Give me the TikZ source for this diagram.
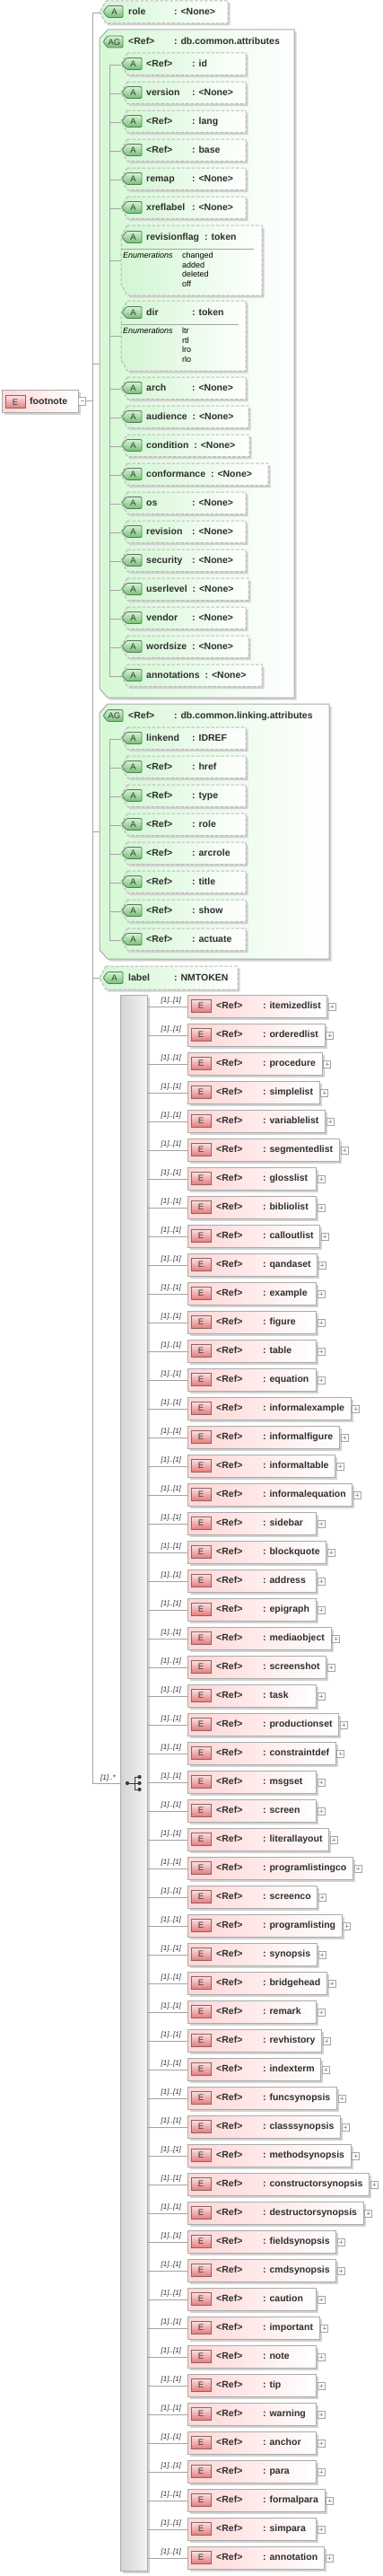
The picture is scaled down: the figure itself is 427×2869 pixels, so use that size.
\documentclass[tikz,border=0pt]{standalone}
\usepackage{fontspec}
\setmainfont{Liberation Sans}
\usetikzlibrary{calc}
\pgfdeclarelayer{bg}
\pgfsetlayers{bg,main}
\definecolor{linec}{HTML}{A4A4A4}
\definecolor{txt}{HTML}{2E2E2E}
\definecolor{shadowc}{HTML}{D2D2D2}
\definecolor{agL}{HTML}{D2F6D2}
\definecolor{agL2}{HTML}{D6F8D6}
\definecolor{epL}{HTML}{FFD6D6}
\definecolor{boxborder}{HTML}{ABABAB}
\definecolor{dashc}{HTML}{B9B9B9}
\definecolor{igtop}{HTML}{D6F3D6}
\definecolor{igbot}{HTML}{72C072}
\definecolor{igbd}{HTML}{5C785C}
\definecolor{ietop}{HTML}{FDE3E3}
\definecolor{iebot}{HTML}{E57C7C}
\definecolor{iebd}{HTML}{8C6464}
\definecolor{barL}{HTML}{D4D4D4}
\definecolor{barR}{HTML}{F3F3F3}
\definecolor{icondk}{HTML}{3A3A3A}
\newcommand\fmain{\fontsize{10.5}{12}\selectfont\bfseries}
\newcommand\fenum{\fontsize{9}{10.7}\selectfont}
\newcommand\fcard{\fontsize{8}{9}\selectfont\itshape}
\newcommand\ficon{\fontsize{9.5}{10}\selectfont}
\newlength\nmw
\newcommand\nmcol[2]{\settowidth\nmw{#2}\ifdim\nmw<\dimexpr#1-6pt\relax\makebox[#1][l]{#2}\else#2\hspace{6pt}\fi}
\newcommand\eltext[1]{\settowidth\nmw{\makebox[52pt][l]{<Ref>}: #1}\ifdim\nmw<104pt\makebox[104pt][l]{\makebox[52pt][l]{<Ref>}: #1}\else\makebox[52pt][l]{<Ref>}: #1\fi}
% chamfered box: #1 style #2 xl #3 yt #4 xr #5 yb #6 dx #7 dy
\newcommand\chbox[7]{%
  \fill[shadowc] (#2+#6+2.5,#3+2.5) -- (#4+2.5,#3+2.5) -- (#4+2.5,#5+2.5) -- (#2+#6+2.5,#5+2.5) -- (#2+2.5,#5-#7+2.5) -- (#2+2.5,#3+#7+2.5) -- cycle;
  \path[#1] (#2+#6,#3) -- (#4,#3) -- (#4,#5) -- (#2+#6,#5) -- (#2,#5-#7) -- (#2,#3+#7) -- cycle;}
% attribute icon: #1 name #2 x #3 y-center #4 text
\newcommand\aicon[4]{%
  \path[aicon] (#2+5,#3-6.5) -- (#2+22,#3-6.5) -- (#2+22,#3+6.5) -- (#2+5,#3+6.5) -- (#2,#3) -- cycle;
  \node[icontext] (#1) at (#2+12.5,#3+0.5) {#4};}
% element icon
\newcommand\eicon[3]{%
  \path[eicon] (#2,#3-7) rectangle (#2+22,#3+7);
  \node[icontext] (#1) at (#2+11,#3+0.5) {E};}
% child attribute: #1 id #2 tick y #3 right x #4 name #5 type
\newcommand\achild[5]{%
  \chbox{attrbox}{135}{#2-13}{#3}{#2+11.5}{7}{12}
  \aicon{#1-ic}{136}{#2-1}{A}
  \node[txtn] (#1) at (163,#2+2.5) {\nmcol{51pt}{#4}: #5};
  \coordinate (#1-in) at (135,#2);
  \coordinate (#1-br) at (122,#2);
  \draw[conn] (#1-br) -- (#1-in);}
% element row: #1 id #2 y #3 name
\newcommand\elemrow[3]{%
  \coordinate (#1-br) at (164,#2);
  \coordinate (#1-in) at (209,#2);
  \draw[conn] (#1-br) -- (#1-in);
  \node[cardn] (#1-card) at (179.5,#2-4.5) {[1]..[1]};
  \node[txtn] (#1) at (241,#2+2.5) {\eltext{#3}};
  \begin{pgfonlayer}{bg}
    \path[fill=shadowc] let \p1=(#1.east) in (211.5,#2-10.5) rectangle (\x1+9.5,#2+14.5);
    \path[ebox] let \p1=(#1.east) in (209,#2-13) rectangle (\x1+7,#2+12);
  \end{pgfonlayer}
  \eicon{#1-ic}{213}{#2-1}
  \path[plusbox] let \p1=(#1.east) in (\x1+8.5,#2-4) rectangle (\x1+16.5,#2+4);
  \draw[pluss] let \p1=(#1.east) in (\x1+10.5,#2) -- (\x1+14.5,#2) (\x1+12.5,#2-2) -- (\x1+12.5,#2+2);}
\begin{document}
\begin{tikzpicture}[x=1pt,y=-1pt,
  conn/.style={draw=linec, line width=0.8pt},
  attrbox/.style={draw=dashc, dash pattern=on 3.5pt off 2pt, line width=1pt, left color=agL, right color=white},
  agbox/.style={draw=boxborder, line width=1pt, left color=agL2, right color=white},
  ebox/.style={draw=boxborder, line width=1pt, left color=epL, right color=white},
  aicon/.style={draw=igbd, line width=0.8pt, top color=igtop, bottom color=igbot, rounded corners=1.2pt},
  eicon/.style={draw=iebd, line width=0.8pt, top color=ietop, bottom color=iebot},
  icontext/.style={inner sep=0pt, text=icondk, font=\ficon},
  txtn/.style={anchor=base west, inner sep=0pt, text=txt, font=\fmain},
  enumn/.style={anchor=base west, inner sep=0pt, text=black, font=\fenum},
  cardn/.style={anchor=base west, inner sep=0pt, text=txt, font=\fcard},
  sep/.style={draw=linec, line width=0.8pt},
  plusbox/.style={draw=linec, line width=0.6pt, fill=white},
  pluss/.style={draw=linec, line width=0.6pt},
  chdot/.style={fill=icondk, draw=none}]
\useasboundingbox (0,0) rectangle (427,2869);

% ---- trunk -------------------------------------------------
\coordinate (T0) at (103,14);
\coordinate (T1) at (103,1986);
\draw[conn] (T0) -- (T1);

% ---- footnote element --------------------------------------
\fill[shadowc] (4.5,436.5) rectangle (89.5,461.5);
\path[ebox] (2,434) rectangle (87,459);
\eicon{fn-ic}{6}{447.5}
\node[txtn] (fn) at (33,450.5) {footnote};
\path[plusbox] (87.5,442.5) rectangle (95.5,451);
\draw[pluss] (89.5,446.7) -- (93.5,446.7);
\coordinate (fn-out) at (95.5,446.7);
\coordinate (fn-tr) at (103,446.7);
\draw[conn] (fn-out) -- (fn-tr);

% ---- role attribute ----------------------------------------
\coordinate (role-tr) at (103,14);
\coordinate (role-in) at (111,14);
\draw[conn] (role-tr) -- (role-in);
\chbox{attrbox}{111}{1}{254}{26}{7}{12.5}
\aicon{role-ic}{115}{13}{A}
\node[txtn] (role) at (143,17) {\nmcol{51pt}{role}: <None>};

% ---- AG db.common.attributes -------------------------------
\coordinate (ag1-tr) at (103,405);
\coordinate (ag1-in) at (111,405);
\draw[conn] (ag1-tr) -- (ag1-in);
\chbox{agbox}{111}{33}{328}{777}{9}{10}
\aicon{ag1-ic}{115}{46.5}{AG}
\node[txtn] (ag1) at (143,50) {\nmcol{51pt}{<Ref>}: db.common.attributes};
\coordinate (ag1-v0) at (122,72);
\coordinate (ag1-v1) at (122,753);
\draw[conn] (ag1-v0) -- (ag1-v1);

\achild{c-id}{72}{274}{<Ref>}{id}
\achild{c-version}{104}{274}{version}{<None>}
\achild{c-lang}{136}{274}{<Ref>}{lang}
\achild{c-base}{168}{274}{<Ref>}{base}
\achild{c-remap}{200}{274}{remap}{<None>}
\achild{c-xref}{232}{274}{xreflabel}{<None>}

% revisionflag
\chbox{attrbox}{135}{251}{292}{329}{7}{12}
\aicon{c-rev-ic}{136}{264}{A}
\node[txtn] (c-rev) at (163,267.5) {\nmcol{51pt}{revisionflag}: token};
\draw[sep] (135,277) -- (283,277);
\node[enumn, font=\fenum\itshape] (c-rev-en) at (137,287.5) {Enumerations};
\node[enumn] (c-rev-v1) at (203,287.5) {changed};
\node[enumn] (c-rev-v2) at (203,298) {added};
\node[enumn] (c-rev-v3) at (203,308.5) {deleted};
\node[enumn] (c-rev-v4) at (203,319) {off};
\coordinate (c-rev-br) at (122,290);
\coordinate (c-rev-in) at (135,290);
\draw[conn] (c-rev-br) -- (c-rev-in);

% dir
\chbox{attrbox}{135}{335}{274}{413}{7}{12}
\aicon{c-dir-ic}{136}{348}{A}
\node[txtn] (c-dir) at (163,351.5) {\nmcol{51pt}{dir}: token};
\draw[sep] (135,361) -- (266,361);
\node[enumn, font=\fenum\itshape] (c-dir-en) at (137,371.5) {Enumerations};
\node[enumn] (c-dir-v1) at (203,371.5) {ltr};
\node[enumn] (c-dir-v2) at (203,382) {rtl};
\node[enumn] (c-dir-v3) at (203,392.5) {lro};
\node[enumn] (c-dir-v4) at (203,403) {rlo};
\coordinate (c-dir-br) at (122,374);
\coordinate (c-dir-in) at (135,374);
\draw[conn] (c-dir-br) -- (c-dir-in);

\achild{c-arch}{433}{274}{arch}{<None>}
\achild{c-aud}{465}{277}{audience}{<None>}
\achild{c-cond}{497}{278}{condition}{<None>}
\achild{c-conf}{529}{299}{conformance}{<None>}
\achild{c-os}{561}{274}{os}{<None>}
\achild{c-revision}{593}{274}{revision}{<None>}
\achild{c-sec}{625}{274}{security}{<None>}
\achild{c-ul}{657}{277}{userlevel}{<None>}
\achild{c-vendor}{689}{274}{vendor}{<None>}
\achild{c-ws}{721}{277}{wordsize}{<None>}
\achild{c-ann}{753}{292}{annotations}{<None>}

% ---- AG db.common.linking.attributes -----------------------
\coordinate (ag2-tr) at (103,926);
\coordinate (ag2-in) at (111,926);
\draw[conn] (ag2-tr) -- (ag2-in);
\chbox{agbox}{111}{784}{367}{1068}{9}{10}
\aicon{ag2-ic}{115}{797}{AG}
\node[txtn] (ag2) at (143,800.5) {\nmcol{51pt}{<Ref>}: db.common.linking.attributes};
\coordinate (ag2-v0) at (122,823);
\coordinate (ag2-v1) at (122,1047);
\draw[conn] (ag2-v0) -- (ag2-v1);
\achild{l-linkend}{823}{274}{linkend}{IDREF}
\achild{l-href}{855}{274}{<Ref>}{href}
\achild{l-type}{887}{274}{<Ref>}{type}
\achild{l-role}{919}{274}{<Ref>}{role}
\achild{l-arcrole}{951}{274}{<Ref>}{arcrole}
\achild{l-title}{983}{274}{<Ref>}{title}
\achild{l-show}{1015}{274}{<Ref>}{show}
\achild{l-actuate}{1047}{274}{<Ref>}{actuate}

% ---- label attribute ---------------------------------------
\coordinate (lab-tr) at (103,1089);
\coordinate (lab-in) at (111,1089);
\draw[conn] (lab-tr) -- (lab-in);
\chbox{attrbox}{111}{1076}{265}{1102}{7}{12.5}
\aicon{lab-ic}{115}{1089}{A}
\node[txtn] (lab) at (143,1092) {\nmcol{51pt}{label}: NMTOKEN};

% ---- choice -------------------------------------------------
\fill[shadowc] (136.5,1110.5) rectangle (166.5,2865.5);
\path[draw=boxborder, line width=0.8pt, left color=barL, right color=barR] (134,1108) rectangle (164,2863);
\coordinate (ch-tr) at (103,1986);
\coordinate (ch-in) at (134,1986);
\draw[conn] (ch-tr) -- (ch-in);
\node[cardn] (ch-card) at (112,1982) {[1]..*};
\coordinate (chi-a) at (142,1986);
\coordinate (chi-b) at (150,1986);
\draw[icondk, line width=0.9pt] (chi-a) -- (chi-b) (150,1979) -- (150,1993) (150,1979) -- (155.5,1979) (150,1993) -- (155.5,1993) (150,1986) -- (155.5,1986);
\fill[chdot] (chi-a) circle (2.1);
\fill[chdot] (155.5,1979) circle (2.1);
\fill[chdot] (155.5,1986) circle (2.1);
\fill[chdot] (155.5,1993) circle (2.1);

\foreach \nm [count=\i] in {itemizedlist,orderedlist,procedure,simplelist,variablelist,segmentedlist,glosslist,bibliolist,calloutlist,qandaset,example,figure,table,equation,informalexample,informalfigure,informaltable,informalequation,sidebar,blockquote,address,epigraph,mediaobject,screenshot,task,productionset,constraintdef,msgset,screen,literallayout,programlistingco,screenco,programlisting,synopsis,bridgehead,remark,revhistory,indexterm,funcsynopsis,classsynopsis,methodsynopsis,constructorsynopsis,destructorsynopsis,fieldsynopsis,cmdsynopsis,caution,important,note,tip,warning,anchor,para,formalpara,simpara,annotation}{
  \pgfmathsetmacro\yy{1121+32*(\i-1)}
  \elemrow{e\i}{\yy}{\nm}
}
\end{tikzpicture}
\end{document}
